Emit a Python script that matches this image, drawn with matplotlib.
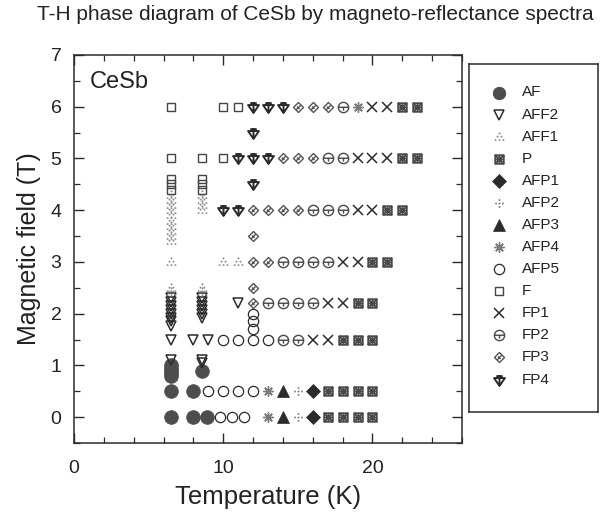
import numpy as np
import matplotlib
matplotlib.use("Agg")
import matplotlib.pyplot as plt
from matplotlib.path import Path
from matplotlib.ticker import MultipleLocator

plt.rcParams['font.family'] = ['Liberation Sans', 'DejaVu Sans']

# ---- phase points: temperature (K) and magnetic field (T) ----
af_T = [6.5, 8.0, 8.9, 6.5, 8.0, 6.5, 6.5, 6.5, 6.5, 6.5, 8.6]
af_H = [0.0, 0.0, 0.0, 0.5, 0.5, 0.8, 0.85, 0.9, 0.95, 1.0, 0.9]

aff2_T = [6.5, 8.6, 8.6, 6.5, 8.0, 9.0, 11.0,
          6.5, 6.5, 6.5, 6.5, 6.5, 6.5, 6.5, 6.5,
          8.6, 8.6, 8.6, 8.6, 8.6, 8.6]
aff2_H = [1.1, 1.1, 1.05, 1.5, 1.5, 1.5, 2.2,
          2.3, 2.22, 2.15, 2.07, 2.0, 1.92, 1.85, 1.77,
          2.3, 2.22, 2.15, 2.07, 2.0, 1.92]

aff1_T = [6.5] * 10 + [8.6, 8.6, 8.6, 8.6, 6.5, 10.0, 11.0, 6.5, 6.5, 8.6, 8.6]
aff1_H = [4.3, 4.2, 4.1, 4.0, 3.9, 3.8, 3.7, 3.6, 3.5, 3.4,
          4.3, 4.2, 4.1, 4.0, 3.0, 3.0, 3.0, 2.5, 2.42, 2.5, 2.42]

p_T = [17, 18, 19, 20, 17, 18, 19, 20, 18, 19, 20, 19, 20, 20, 21, 21, 22, 22, 23, 22, 23]
p_H = [0, 0, 0, 0, 0.5, 0.5, 0.5, 0.5, 1.5, 1.5, 1.5, 2.2, 2.2, 3, 3, 4, 4, 5, 5, 6, 6]

afp1_T = [16, 16]
afp1_H = [0.0, 0.5]
afp2_T = [15, 15]
afp2_H = [0.0, 0.5]
afp3_T = [14, 14]
afp3_H = [0.0, 0.5]
afp4_T = [13, 13, 19]
afp4_H = [0.0, 0.5, 6.0]

afp5_T = [9.8, 10.6, 11.4, 9.0, 10.0, 11.0, 12.0, 10.0, 11.0, 12.0, 13.0, 12.0, 12.0, 12.0]
afp5_H = [0.0, 0.0, 0.0, 0.5, 0.5, 0.5, 0.5, 1.5, 1.5, 1.5, 1.5, 1.7, 1.85, 2.0]

f_T = [6.5, 10, 11, 6.5, 8.6, 10, 6.5, 6.5, 6.5, 8.6, 8.6, 8.6]
f_H = [6, 6, 6, 5, 5, 5, 4.6, 4.5, 4.4, 4.6, 4.5, 4.4]

fp1_T = [16, 17, 17, 18, 18, 19, 19, 20, 19, 20, 21, 20, 21]
fp1_H = [1.5, 1.5, 2.2, 2.2, 3, 3, 4, 4, 5, 5, 5, 6, 6]

fp2_T = [14, 15, 13, 14, 15, 16, 14, 15, 16, 17, 16, 17, 18, 17, 18, 18]
fp2_H = [1.5, 1.5, 2.2, 2.2, 2.2, 2.2, 3, 3, 3, 3, 4, 4, 4, 5, 5, 6]

fp3_T = [12, 12, 12, 13, 12, 12, 13, 14, 15, 14, 15, 16, 15, 16, 17]
fp3_H = [2.2, 2.5, 3, 3, 3.5, 4, 4, 4, 4, 5, 5, 5, 6, 6, 6]

fp4_T = [10, 11, 12, 11, 12, 13, 12, 12, 13, 14]
fp4_H = [4, 4, 4.5, 5, 5, 5, 5.5, 6, 6, 6]

phase_labels = ['AF', 'AFF2', 'AFF1', 'P', 'AFP1', 'AFP2', 'AFP3',
                'AFP4', 'AFP5', 'F', 'FP1', 'FP2', 'FP3', 'FP4']

x_ticks = [0, 10, 20]
y_ticks = [0, 1, 2, 3, 4, 5, 6, 7]


# ---- marker glyphs ----
def dot_cluster(points, r=0.16):
    return Path.make_compound_path(*[Path.circle(c, r) for c in points])


def line_glyph(segments, closed=()):
    verts, codes = [], []
    for i, seg in enumerate(segments):
        verts.append(seg[0]); codes.append(Path.MOVETO)
        for v in seg[1:]:
            verts.append(v); codes.append(Path.LINETO)
        if i in closed:
            verts.append(seg[0]); codes.append(Path.CLOSEPOLY)
    return Path(verts, codes)


tri_dots = dot_cluster([(0, 0.95), (-0.45, 0.2), (0.45, 0.2),
                        (-0.9, -0.6), (0, -0.6), (0.9, -0.6)])
plus_dots = dot_cluster([(0, 0.85), (0, -0.85), (0.85, 0), (-0.85, 0), (0, 0)], r=0.17)

circ = Path.unit_circle()
fp2_glyph = Path.make_compound_path(
    circ, line_glyph([[(-1, 0.05), (1, 0.05)], [(0, 0.05), (0, -0.6)]]))
fp3_glyph = line_glyph([[(0, 1), (1, 0), (0, -1), (-1, 0)],
                        [(-0.5, -0.5), (0.5, 0.5)], [(-0.3, 0.2), (0.2, -0.3)]],
                       closed=(0,))
fp4_glyph = line_glyph([[(-1, 0.45), (1, 0.45), (0, -1)],
                        [(0, 1), (0, -1)], [(-0.6, 0.8), (0.6, 0.8)]],
                       closed=(0,))
p_glyph = line_glyph([[(-1, -1), (1, -1), (1, 1), (-1, 1)],
                      [(-1, -1), (1, 1)], [(-1, 1), (1, -1)],
                      [(0, -1), (0, 1)], [(-1, 0), (1, 0)]], closed=(0,))

ink = '#2b2b2b'
styles = {
    'AF':   dict(marker='o', ms=9.8, mfc='#4d4d4d', mec='#4d4d4d', mew=0.6),
    'AFF2': dict(marker='v', ms=7.4, mfc='none', mec=ink, mew=1.1),
    'AFF1': dict(marker=tri_dots, ms=7.0, mfc='#8a8a8a', mec='#8a8a8a', mew=0.3),
    'P':    dict(marker=p_glyph, ms=6.2, mfc='none', mec='#4a4a4a', mew=1.3),
    'AFP1': dict(marker='D', ms=7.0, mfc=ink, mec=ink, mew=0.5),
    'AFP2': dict(marker=plus_dots, ms=6.0, mfc='#777777', mec='#777777', mew=0.3),
    'AFP3': dict(marker='^', ms=8.2, mfc=ink, mec=ink, mew=0.5),
    'AFP4': dict(marker=(8, 2, 0), ms=7.5, mfc='none', mec='#7a7a7a', mew=1.0),
    'AFP5': dict(marker='o', ms=7.4, mfc='none', mec=ink, mew=0.9),
    'F':    dict(marker='s', ms=6.4, mfc='none', mec='#444444', mew=1.0),
    'FP1':  dict(marker='x', ms=7.8, mfc='none', mec=ink, mew=1.1),
    'FP2':  dict(marker=fp2_glyph, ms=7.4, mfc='none', mec='#4a4a4a', mew=1.0),
    'FP3':  dict(marker=fp3_glyph, ms=7.2, mfc='none', mec='#555555', mew=1.0),
    'FP4':  dict(marker=fp4_glyph, ms=7.8, mfc='none', mec=ink, mew=1.4),
}

series = {
    'AF': (af_T, af_H), 'AFF2': (aff2_T, aff2_H), 'AFF1': (aff1_T, aff1_H),
    'P': (p_T, p_H), 'AFP1': (afp1_T, afp1_H), 'AFP2': (afp2_T, afp2_H),
    'AFP3': (afp3_T, afp3_H), 'AFP4': (afp4_T, afp4_H), 'AFP5': (afp5_T, afp5_H),
    'F': (f_T, f_H), 'FP1': (fp1_T, fp1_H), 'FP2': (fp2_T, fp2_H),
    'FP3': (fp3_T, fp3_H), 'FP4': (fp4_T, fp4_H),
}

fig = plt.figure(figsize=(6.05, 5.14), dpi=100)
ax = fig.add_axes([0.1223, 0.1381, 0.6413, 0.7549])

for name in phase_labels:
    T, H = series[name]
    ax.plot(T, H, ls='none', **styles[name])

ax.set_xlim(0, 26)
ax.set_ylim(-0.5, 7)
ax.set_xticks(x_ticks)
ax.set_yticks(y_ticks)
ax.xaxis.set_minor_locator(MultipleLocator(2))
ax.yaxis.set_minor_locator(MultipleLocator(0.5))
ax.tick_params(which='both', direction='in', top=True, right=True,
               colors=ink, labelcolor='#222222')
ax.tick_params(which='major', length=7, width=1.0, labelsize=14)
ax.tick_params(axis='x', which='major', pad=12)
ax.tick_params(axis='y', which='major', pad=9)
ax.tick_params(which='minor', length=4, width=0.9)
for s in ax.spines.values():
    s.set_linewidth(1.1)
    s.set_color(ink)

ax.set_xlabel('Temperature (K)', fontsize=18.5, color='#222222', labelpad=6)
ax.set_ylabel('Magnetic field (T)', fontsize=18, color='#222222', labelpad=7)
ax.text(0.04, 0.96, 'CeSb', transform=ax.transAxes, fontsize=17,
        color='#222222', va='top', ha='left')

fig.text(0.522, 0.971, 'T-H phase diagram of CeSb by magneto-reflectance spectra',
         ha='center', va='center', fontsize=15, color='#222222')

# ---- legend panel ----
lax = fig.add_axes([469 / 605, 1 - 412 / 514, 129 / 605, 348 / 514])
lax.set_xlim(0, 1)
lax.set_ylim(0, 1)
lax.set_xticks([])
lax.set_yticks([])
for s in lax.spines.values():
    s.set_linewidth(1.1)
    s.set_color(ink)
n = len(phase_labels)
ys = np.linspace(1 - 28.5 / 348, 1 - 315.5 / 348, n)
for name, y in zip(phase_labels, ys):
    st = dict(styles[name])
    if name == 'AF':
        st['ms'] = 9.0
    lax.plot([0.235], [y], ls='none', **st)
    lax.text(0.41, y, name, fontsize=11, va='center', ha='left', color='#222222')

fig.savefig('out.png', dpi=100)
